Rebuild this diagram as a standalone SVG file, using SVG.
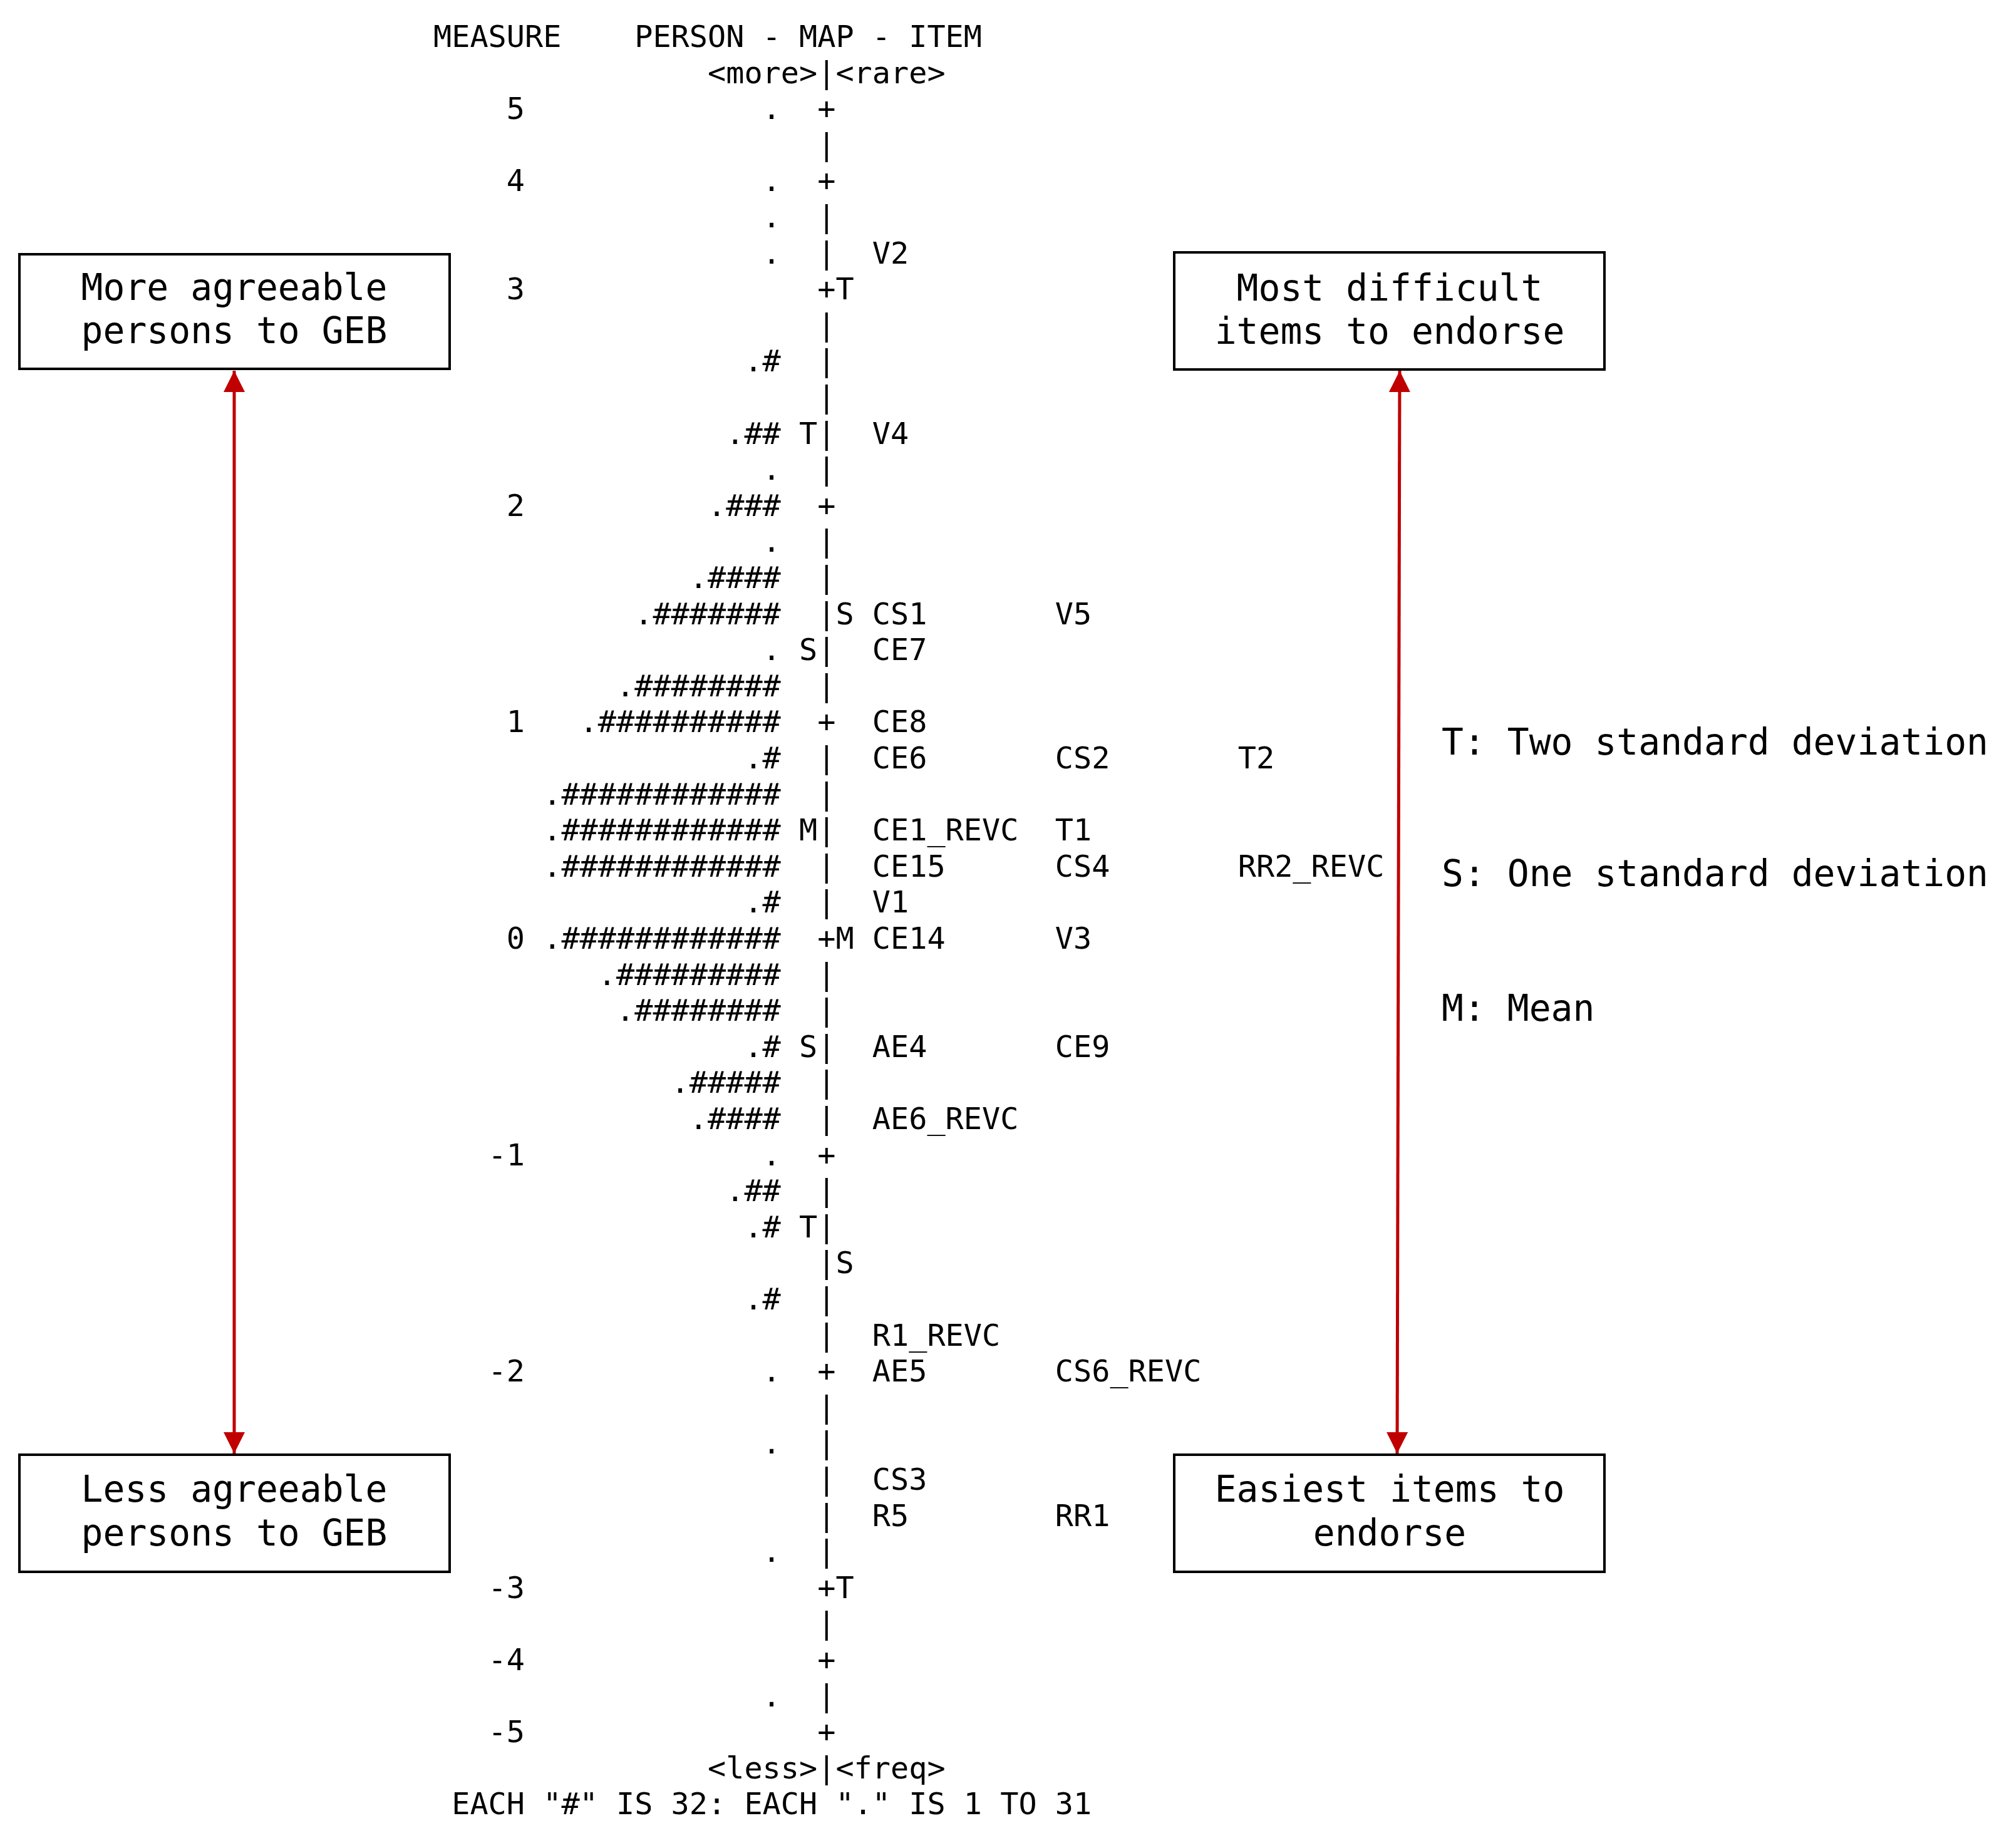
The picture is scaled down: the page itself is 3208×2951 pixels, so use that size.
<svg xmlns="http://www.w3.org/2000/svg" width="3208" height="2951" viewBox="0 0 3208 2951">
<style>
.m{font-family:"DejaVu Sans Mono",monospace;font-size:48.5px;fill:#000}
.b{font-family:"DejaVu Sans Mono",monospace;font-size:58px;fill:#000;text-anchor:middle}
.l{font-family:"DejaVu Sans Mono",monospace;font-size:58px;fill:#000}
.box{fill:#fff;stroke:#000;stroke-width:4}
.arr{stroke:#c00000;stroke-width:5;fill:none}
</style>
<defs>
<marker id="ah" viewBox="0 0 10 10" refX="10" refY="5" markerWidth="34" markerHeight="34" markerUnits="userSpaceOnUse" orient="auto-start-reverse">
<path d="M0,0 L10,5 L0,10 Z" fill="#c00000"/>
</marker>
</defs>
<rect width="3208" height="2951" fill="#fff"/>
<g id="map" class="m">
<text x="692" y="75">MEASURE&#160;&#160;&#160;&#160;PERSON&#160;-&#160;MAP&#160;-&#160;ITEM</text>
<text x="692" y="132.6">&#160;&#160;&#160;&#160;&#160;&#160;&#160;&#160;&#160;&#160;&#160;&#160;&#160;&#160;&#160;&lt;more&gt;|&lt;rare&gt;</text>
<text x="692" y="190.2">&#160;&#160;&#160;&#160;5&#160;&#160;&#160;&#160;&#160;&#160;&#160;&#160;&#160;&#160;&#160;&#160;&#160;.&#160;&#160;+</text>
<text x="692" y="247.8">&#160;&#160;&#160;&#160;&#160;&#160;&#160;&#160;&#160;&#160;&#160;&#160;&#160;&#160;&#160;&#160;&#160;&#160;&#160;&#160;&#160;|</text>
<text x="692" y="305.4">&#160;&#160;&#160;&#160;4&#160;&#160;&#160;&#160;&#160;&#160;&#160;&#160;&#160;&#160;&#160;&#160;&#160;.&#160;&#160;+</text>
<text x="692" y="363">&#160;&#160;&#160;&#160;&#160;&#160;&#160;&#160;&#160;&#160;&#160;&#160;&#160;&#160;&#160;&#160;&#160;&#160;.&#160;&#160;|</text>
<text x="692" y="420.6">&#160;&#160;&#160;&#160;&#160;&#160;&#160;&#160;&#160;&#160;&#160;&#160;&#160;&#160;&#160;&#160;&#160;&#160;.&#160;&#160;|&#160;&#160;V2</text>
<text x="692" y="478.2">&#160;&#160;&#160;&#160;3&#160;&#160;&#160;&#160;&#160;&#160;&#160;&#160;&#160;&#160;&#160;&#160;&#160;&#160;&#160;&#160;+T</text>
<text x="692" y="535.8">&#160;&#160;&#160;&#160;&#160;&#160;&#160;&#160;&#160;&#160;&#160;&#160;&#160;&#160;&#160;&#160;&#160;&#160;&#160;&#160;&#160;|</text>
<text x="692" y="593.4">&#160;&#160;&#160;&#160;&#160;&#160;&#160;&#160;&#160;&#160;&#160;&#160;&#160;&#160;&#160;&#160;&#160;.#&#160;&#160;|</text>
<text x="692" y="651">&#160;&#160;&#160;&#160;&#160;&#160;&#160;&#160;&#160;&#160;&#160;&#160;&#160;&#160;&#160;&#160;&#160;&#160;&#160;&#160;&#160;|</text>
<text x="692" y="708.6">&#160;&#160;&#160;&#160;&#160;&#160;&#160;&#160;&#160;&#160;&#160;&#160;&#160;&#160;&#160;&#160;.##&#160;T|&#160;&#160;V4</text>
<text x="692" y="766.2">&#160;&#160;&#160;&#160;&#160;&#160;&#160;&#160;&#160;&#160;&#160;&#160;&#160;&#160;&#160;&#160;&#160;&#160;.&#160;&#160;|</text>
<text x="692" y="823.8">&#160;&#160;&#160;&#160;2&#160;&#160;&#160;&#160;&#160;&#160;&#160;&#160;&#160;&#160;.###&#160;&#160;+</text>
<text x="692" y="881.4">&#160;&#160;&#160;&#160;&#160;&#160;&#160;&#160;&#160;&#160;&#160;&#160;&#160;&#160;&#160;&#160;&#160;&#160;.&#160;&#160;|</text>
<text x="692" y="939">&#160;&#160;&#160;&#160;&#160;&#160;&#160;&#160;&#160;&#160;&#160;&#160;&#160;&#160;.####&#160;&#160;|</text>
<text x="692" y="996.6">&#160;&#160;&#160;&#160;&#160;&#160;&#160;&#160;&#160;&#160;&#160;.#######&#160;&#160;|S&#160;CS1&#160;&#160;&#160;&#160;&#160;&#160;&#160;V5</text>
<text x="692" y="1054.2">&#160;&#160;&#160;&#160;&#160;&#160;&#160;&#160;&#160;&#160;&#160;&#160;&#160;&#160;&#160;&#160;&#160;&#160;.&#160;S|&#160;&#160;CE7</text>
<text x="692" y="1111.8">&#160;&#160;&#160;&#160;&#160;&#160;&#160;&#160;&#160;&#160;.########&#160;&#160;|</text>
<text x="692" y="1169.4">&#160;&#160;&#160;&#160;1&#160;&#160;&#160;.##########&#160;&#160;+&#160;&#160;CE8</text>
<text x="692" y="1227">&#160;&#160;&#160;&#160;&#160;&#160;&#160;&#160;&#160;&#160;&#160;&#160;&#160;&#160;&#160;&#160;&#160;.#&#160;&#160;|&#160;&#160;CE6&#160;&#160;&#160;&#160;&#160;&#160;&#160;CS2&#160;&#160;&#160;&#160;&#160;&#160;&#160;T2</text>
<text x="692" y="1284.6">&#160;&#160;&#160;&#160;&#160;&#160;.############&#160;&#160;|</text>
<text x="692" y="1342.2">&#160;&#160;&#160;&#160;&#160;&#160;.############&#160;M|&#160;&#160;CE1_REVC&#160;&#160;T1</text>
<text x="692" y="1399.8">&#160;&#160;&#160;&#160;&#160;&#160;.############&#160;&#160;|&#160;&#160;CE15&#160;&#160;&#160;&#160;&#160;&#160;CS4&#160;&#160;&#160;&#160;&#160;&#160;&#160;RR2_REVC</text>
<text x="692" y="1457.4">&#160;&#160;&#160;&#160;&#160;&#160;&#160;&#160;&#160;&#160;&#160;&#160;&#160;&#160;&#160;&#160;&#160;.#&#160;&#160;|&#160;&#160;V1</text>
<text x="692" y="1515">&#160;&#160;&#160;&#160;0&#160;.############&#160;&#160;+M&#160;CE14&#160;&#160;&#160;&#160;&#160;&#160;V3</text>
<text x="692" y="1572.6">&#160;&#160;&#160;&#160;&#160;&#160;&#160;&#160;&#160;.#########&#160;&#160;|</text>
<text x="692" y="1630.2">&#160;&#160;&#160;&#160;&#160;&#160;&#160;&#160;&#160;&#160;.########&#160;&#160;|</text>
<text x="692" y="1687.8">&#160;&#160;&#160;&#160;&#160;&#160;&#160;&#160;&#160;&#160;&#160;&#160;&#160;&#160;&#160;&#160;&#160;.#&#160;S|&#160;&#160;AE4&#160;&#160;&#160;&#160;&#160;&#160;&#160;CE9</text>
<text x="692" y="1745.4">&#160;&#160;&#160;&#160;&#160;&#160;&#160;&#160;&#160;&#160;&#160;&#160;&#160;.#####&#160;&#160;|</text>
<text x="692" y="1803">&#160;&#160;&#160;&#160;&#160;&#160;&#160;&#160;&#160;&#160;&#160;&#160;&#160;&#160;.####&#160;&#160;|&#160;&#160;AE6_REVC</text>
<text x="692" y="1860.6">&#160;&#160;&#160;-1&#160;&#160;&#160;&#160;&#160;&#160;&#160;&#160;&#160;&#160;&#160;&#160;&#160;.&#160;&#160;+</text>
<text x="692" y="1918.2">&#160;&#160;&#160;&#160;&#160;&#160;&#160;&#160;&#160;&#160;&#160;&#160;&#160;&#160;&#160;&#160;.##&#160;&#160;|</text>
<text x="692" y="1975.8">&#160;&#160;&#160;&#160;&#160;&#160;&#160;&#160;&#160;&#160;&#160;&#160;&#160;&#160;&#160;&#160;&#160;.#&#160;T|</text>
<text x="692" y="2033.4">&#160;&#160;&#160;&#160;&#160;&#160;&#160;&#160;&#160;&#160;&#160;&#160;&#160;&#160;&#160;&#160;&#160;&#160;&#160;&#160;&#160;|S</text>
<text x="692" y="2091">&#160;&#160;&#160;&#160;&#160;&#160;&#160;&#160;&#160;&#160;&#160;&#160;&#160;&#160;&#160;&#160;&#160;.#&#160;&#160;|</text>
<text x="692" y="2148.6">&#160;&#160;&#160;&#160;&#160;&#160;&#160;&#160;&#160;&#160;&#160;&#160;&#160;&#160;&#160;&#160;&#160;&#160;&#160;&#160;&#160;|&#160;&#160;R1_REVC</text>
<text x="692" y="2206.2">&#160;&#160;&#160;-2&#160;&#160;&#160;&#160;&#160;&#160;&#160;&#160;&#160;&#160;&#160;&#160;&#160;.&#160;&#160;+&#160;&#160;AE5&#160;&#160;&#160;&#160;&#160;&#160;&#160;CS6_REVC</text>
<text x="692" y="2263.8">&#160;&#160;&#160;&#160;&#160;&#160;&#160;&#160;&#160;&#160;&#160;&#160;&#160;&#160;&#160;&#160;&#160;&#160;&#160;&#160;&#160;|</text>
<text x="692" y="2321.4">&#160;&#160;&#160;&#160;&#160;&#160;&#160;&#160;&#160;&#160;&#160;&#160;&#160;&#160;&#160;&#160;&#160;&#160;.&#160;&#160;|</text>
<text x="692" y="2379">&#160;&#160;&#160;&#160;&#160;&#160;&#160;&#160;&#160;&#160;&#160;&#160;&#160;&#160;&#160;&#160;&#160;&#160;&#160;&#160;&#160;|&#160;&#160;CS3</text>
<text x="692" y="2436.6">&#160;&#160;&#160;&#160;&#160;&#160;&#160;&#160;&#160;&#160;&#160;&#160;&#160;&#160;&#160;&#160;&#160;&#160;&#160;&#160;&#160;|&#160;&#160;R5&#160;&#160;&#160;&#160;&#160;&#160;&#160;&#160;RR1</text>
<text x="692" y="2494.2">&#160;&#160;&#160;&#160;&#160;&#160;&#160;&#160;&#160;&#160;&#160;&#160;&#160;&#160;&#160;&#160;&#160;&#160;.&#160;&#160;|</text>
<text x="692" y="2551.8">&#160;&#160;&#160;-3&#160;&#160;&#160;&#160;&#160;&#160;&#160;&#160;&#160;&#160;&#160;&#160;&#160;&#160;&#160;&#160;+T</text>
<text x="692" y="2609.4">&#160;&#160;&#160;&#160;&#160;&#160;&#160;&#160;&#160;&#160;&#160;&#160;&#160;&#160;&#160;&#160;&#160;&#160;&#160;&#160;&#160;|</text>
<text x="692" y="2667">&#160;&#160;&#160;-4&#160;&#160;&#160;&#160;&#160;&#160;&#160;&#160;&#160;&#160;&#160;&#160;&#160;&#160;&#160;&#160;+</text>
<text x="692" y="2724.6">&#160;&#160;&#160;&#160;&#160;&#160;&#160;&#160;&#160;&#160;&#160;&#160;&#160;&#160;&#160;&#160;&#160;&#160;.&#160;&#160;|</text>
<text x="692" y="2782.2">&#160;&#160;&#160;-5&#160;&#160;&#160;&#160;&#160;&#160;&#160;&#160;&#160;&#160;&#160;&#160;&#160;&#160;&#160;&#160;+</text>
<text x="692" y="2839.8">&#160;&#160;&#160;&#160;&#160;&#160;&#160;&#160;&#160;&#160;&#160;&#160;&#160;&#160;&#160;&lt;less&gt;|&lt;freq&gt;</text>
<text x="692" y="2897.4">&#160;EACH&#160;"#"&#160;IS&#160;32:&#160;EACH&#160;"."&#160;IS&#160;1&#160;TO&#160;31</text>
</g>
<g id="connectors">
<line class="arr" x1="374" y1="592" x2="374" y2="2321" marker-start="url(#ah)" marker-end="url(#ah)"/>
<line class="arr" x1="2235" y1="592" x2="2231" y2="2321" marker-start="url(#ah)" marker-end="url(#ah)"/>
</g>
<g id="box-more">
<rect class="box" x="31" y="406" width="687" height="183"/>
<text class="b" x="374" y="479">More agreeable</text>
<text class="b" x="374" y="548">persons to GEB</text>
</g>
<g id="box-less">
<rect class="box" x="31" y="2323" width="687" height="187"/>
<text class="b" x="374" y="2398">Less agreeable</text>
<text class="b" x="374" y="2468">persons to GEB</text>
</g>
<g id="box-difficult">
<rect class="box" x="1875" y="403" width="687" height="187"/>
<text class="b" x="2219" y="480">Most difficult</text>
<text class="b" x="2219" y="549">items to endorse</text>
</g>
<g id="box-easiest">
<rect class="box" x="1875" y="2323" width="687" height="187"/>
<text class="b" x="2219" y="2398">Easiest items to</text>
<text class="b" x="2219" y="2468">endorse</text>
</g>
<g id="legend" class="l">
<text x="2302" y="1205">T: Two standard deviation</text>
<text x="2302" y="1415">S: One standard deviation</text>
<text x="2302" y="1630">M: Mean</text>
</g>
</svg>
